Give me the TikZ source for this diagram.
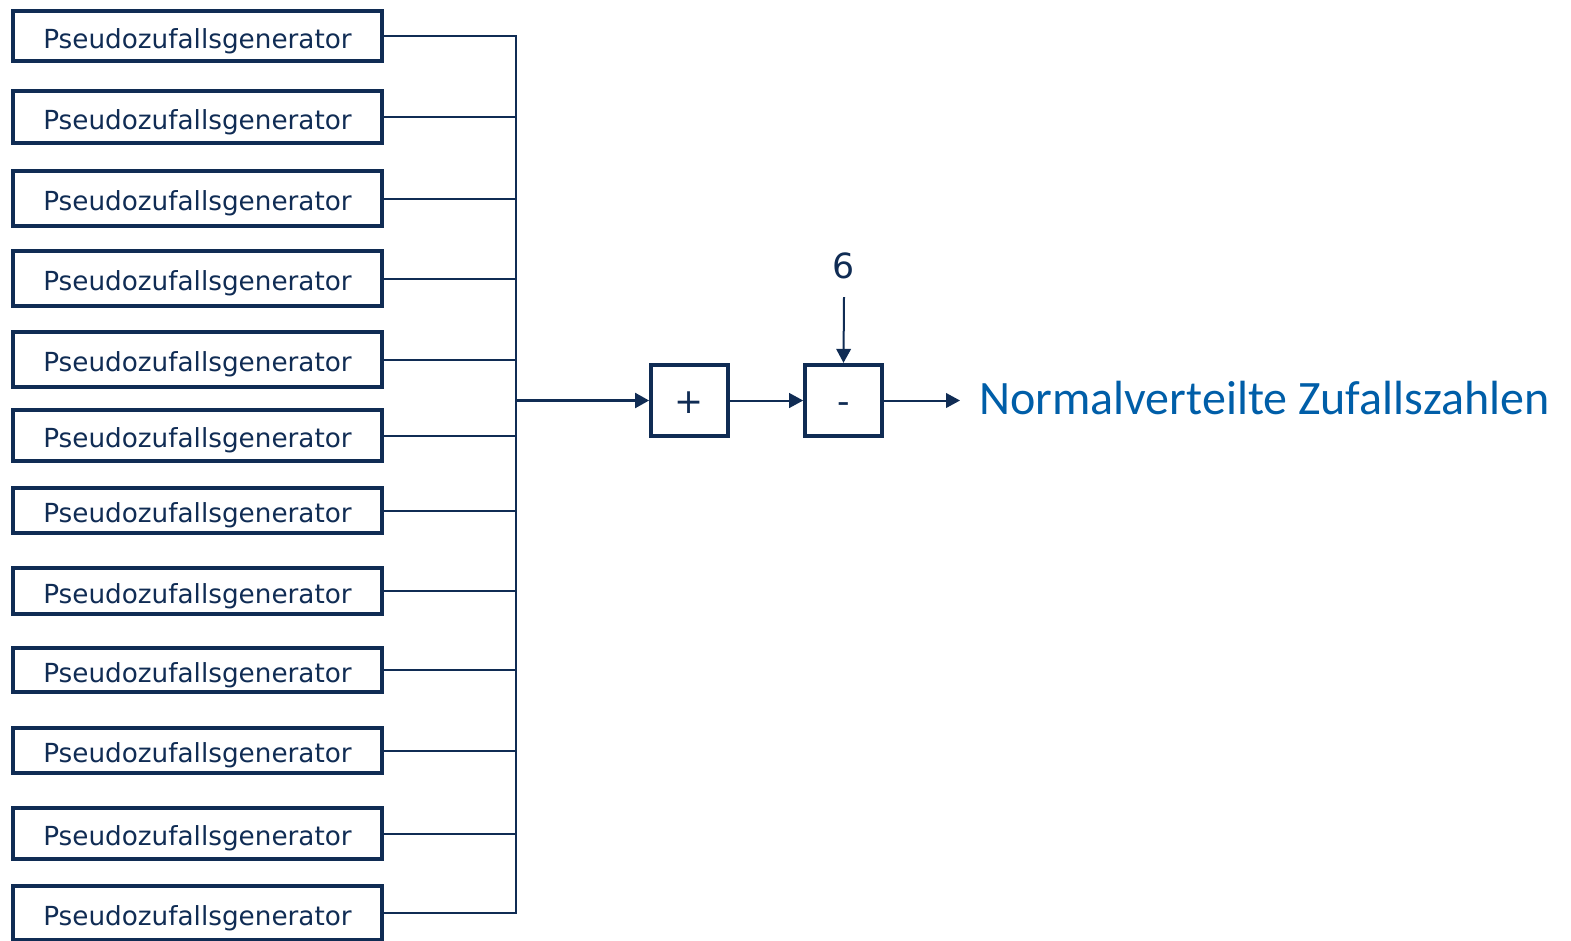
\documentclass[tikz,border=0pt]{standalone}
\usepackage{fontspec}
\setmainfont{DejaVu Sans}
\newfontfamily\calib{Carlito}
\usetikzlibrary{arrows.meta,calc}
\definecolor{navy}{RGB}{16,44,84}
\definecolor{outblue}{RGB}{0,94,168}
\tikzset{
  genbox/.style={draw=navy, line width=3pt, minimum width=276.75pt, inner sep=0pt,
    font=\fontsize{19.7pt}{22pt}\selectfont, text=navy, text height=18.1pt, text depth=0pt},
  opbox/.style={draw=navy, line width=3pt, minimum width=57.5pt, minimum height=53.5pt,
    inner sep=0pt, font=\fontsize{26pt}{28pt}\selectfont, text=navy, text height=19.8pt, text depth=0pt},
  wire/.style={draw=navy, line width=1.5pt},
  flow/.style={wire, -{Triangle[length=10.5pt,width=11pt]}},
}
\begin{document}
\begin{tikzpicture}[x=0.75pt,y=-0.75pt]
\useasboundingbox (0,0) rectangle (1571,940);
% generators: index / centre y / height
\foreach \i/\cy/\h in {1/36/50, 2/117/52, 3/198.5/55, 4/278.5/55, 5/359.5/55, 6/435.5/51,
                       7/510.5/45, 8/591/46, 9/670/44, 10/750.5/45, 11/833.5/51, 12/913/54}{
  \node[genbox, minimum height=\h*0.75pt] (g\i) at (197.5,\cy) {Pseudozufallsgenerator};
  \draw[wire] (g\i.east) -- (516,\cy);
}
% collecting bus
\coordinate (bustop) at (516,36);
\coordinate (busbot) at (516,913);
\draw[wire, line cap=rect] (bustop) -- (busbot);
\coordinate (busout) at (516,400.5);
% summation and subtraction
\node[opbox] (plus) at (689.5,400.5) {+};
\node[opbox] (minus) at (843.5,400.5) {-};
\node[font=\fontsize{26pt}{28pt}\selectfont, text=navy, inner sep=2pt] (six) at (844,266) {6};
\coordinate (out) at (960,400.5);
\draw[flow, line width=2.2pt] (busout) -- (plus.west);
\draw[flow] (plus.east) -- (minus.west);
\draw[flow] (844,297) -- (minus.north);
\draw[flow] (minus.east) -- (out);
\node[anchor=west, inner sep=0pt, text=outblue, font=\calib\fontsize{36pt}{38pt}\selectfont] (res) at (979,398) {Normalverteilte Zufallszahlen};
\end{tikzpicture}
\end{document}
